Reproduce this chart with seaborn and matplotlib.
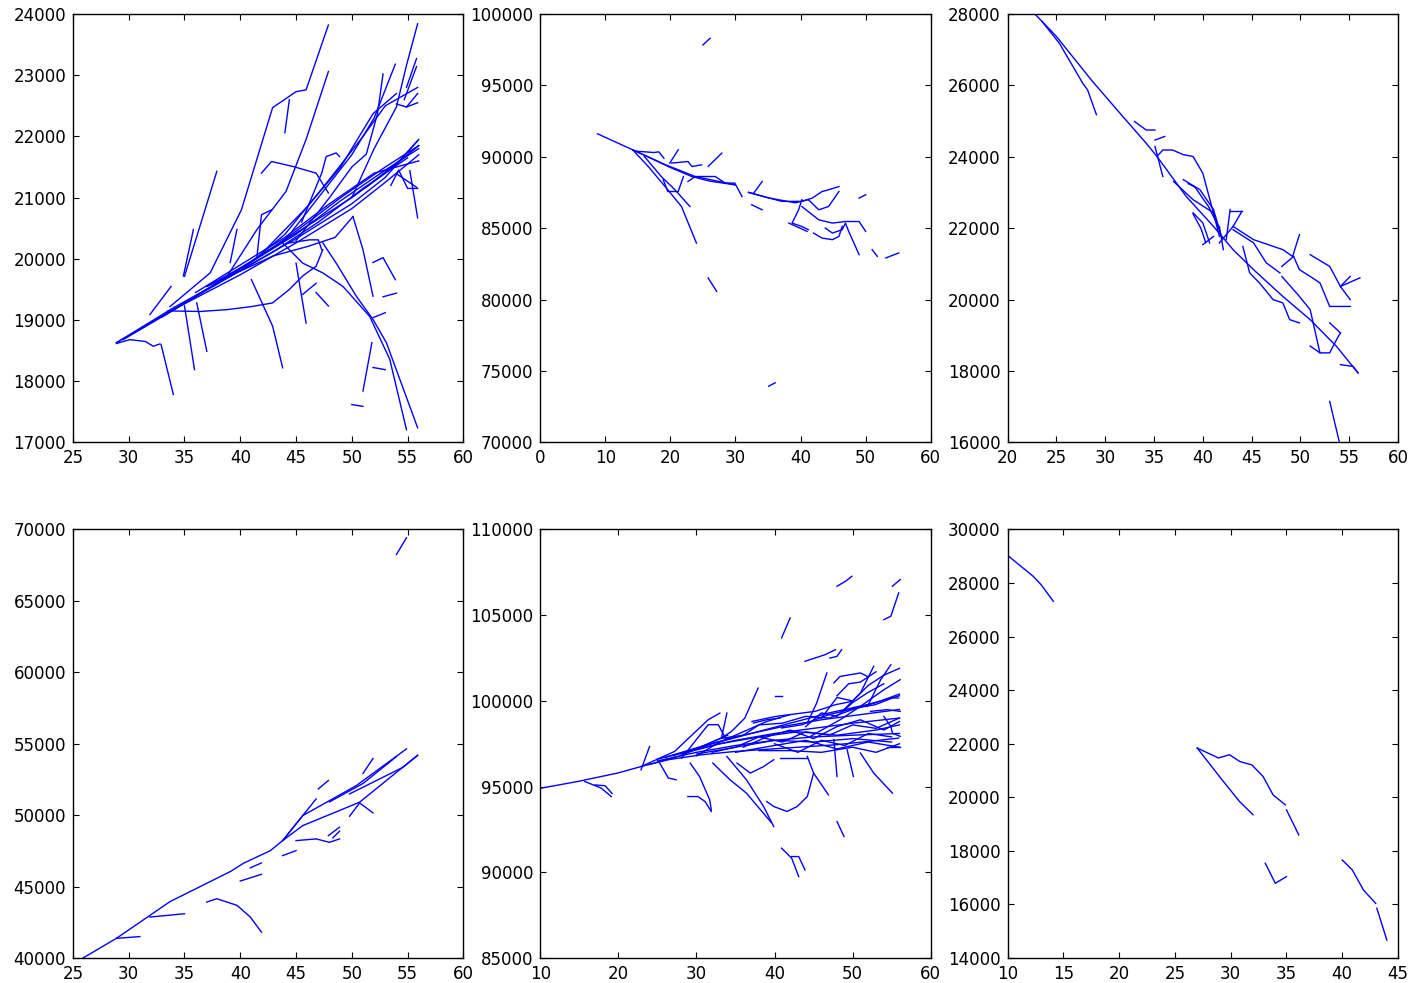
import numpy as np
import pandas as pd
import matplotlib
matplotlib.use("Agg")
import matplotlib.pyplot as plt
import seaborn as sns

plt.rcParams['font.family'] = ['DejaVu Sans']
plt.rcParams['font.size'] = 12

# ---------------- data: each panel is a list of polylines (xs, ys) ----------------
panel1 = [
    ([28.9, 34, 40, 45, 50, 53, 56], [18630, 19200, 19810, 20330, 20900, 21330, 21950]),
    ([28.9, 34, 40, 45, 50, 53, 56], [18630, 19170, 19740, 20260, 20820, 21250, 21700]),
    ([29.5, 35, 40, 45, 50, 53, 56], [18680, 19270, 19850, 20420, 21000, 21400, 21850]),
    ([31, 35, 39, 43, 47, 51, 55], [18850, 19280, 19700, 20120, 20600, 21150, 21650]),
    ([33, 37, 41, 45, 49, 53, 56], [19050, 19500, 19950, 20450, 21000, 21500, 21850]),
    ([36, 40, 44, 48, 52, 56], [19450, 19900, 20350, 20900, 21400, 21600]),
    ([37, 41, 45, 49, 53, 56], [19550, 19950, 20400, 20950, 21450, 21800]),
    ([40, 44, 48, 51, 53, 55.9], [19800, 20400, 21300, 22000, 22500, 22800]),
    ([42, 46, 49, 51.9, 54], [20100, 20850, 21500, 22370, 22700]),
    ([44, 47, 50, 52, 53.9], [20300, 21000, 21700, 22300, 23180]),
    ([45, 48, 50, 51.3, 52.3, 52.8], [20300, 21000, 21500, 21710, 22370, 23020]),
    ([50, 52, 54, 54.9, 55.9], [21000, 21800, 22480, 23160, 23840]),
    ([54.7, 55.8], [22600, 23140]),
    ([54.9, 55.8], [22800, 23270]),
    ([54.0, 54.9, 55.9], [22530, 22480, 22700]),
    ([54.9, 55.9], [22480, 22550]),
    ([33.7, 37.3, 40.1, 42.9, 45.0, 45.9, 47.9], [19220, 19770, 20800, 22470, 22730, 22760, 23820]),
    ([38.8, 41.5, 44.1, 45.9, 47.9], [19710, 20480, 21100, 21950, 23060]),
    ([35.0, 37.9], [19715, 21430]),
    ([34.9, 35.8], [19720, 20480]),
    ([39.1, 39.7], [19940, 20480]),
    ([41.9, 42.8, 44.7, 46.8, 47.9], [21400, 21590, 21510, 21400, 21075]),
    ([44.4, 44.0], [22600, 22060]),
    ([45.5, 47.3, 47.7, 48.6, 48.9], [20600, 21400, 21670, 21730, 21670]),
    ([51.3, 54.3, 55.9], [21170, 21610, 21930]),
    ([54.0, 55.8], [21390, 21170]),
    ([55.2, 55.9], [21440, 20670]),
    ([53.5, 54.2, 55.0, 55.9], [21200, 21450, 21150, 21150]),
    ([43.8, 45.6, 47.4, 49.2, 51.6, 53.4, 54.9], [20260, 19930, 19770, 19550, 19060, 18360, 17210]),
    ([47.4, 48.6, 50.4, 51.9, 53.1, 55.9], [20260, 19930, 19390, 19010, 18630, 17240]),
    ([50.1, 51.0, 51.9], [20690, 20150, 19390]),
    ([51.9, 52.8, 53.9], [19940, 20020, 19660]),
    ([52.8, 54.0], [19380, 19440]),
    ([51.9, 53.0], [19040, 19120]),
    ([51.8, 51.0], [18630, 17840]),
    ([51.9, 53.0], [18225, 18190]),
    ([50.0, 51.0], [17620, 17590]),
    ([41.0, 42.9, 43.8], [19660, 18900, 18220]),
    ([45.0, 45.9], [19930, 18950]),
    ([46.8, 45.6], [19600, 19420]),
    ([46.8, 47.9], [19450, 19230]),
    ([35.0, 35.9], [19230, 18190]),
    ([36.1, 37.0], [19280, 18490]),
    ([33.5, 36.4, 38.8, 41.0, 42.9, 44.4, 45.6, 46.8, 47.4],
     [19150, 19140, 19170, 19220, 19280, 19500, 19720, 19880, 20150]),
    ([28.9, 30.1, 31.5, 32.2, 32.8], [18617, 18680, 18650, 18572, 18610]),
    ([32.9, 34.0], [18600, 17785]),
    ([31.9, 33.8], [19090, 19550]),
    ([42.8, 41.9, 41.5], [20800, 20720, 20040]),
    ([44.4, 46.2, 47.0, 47.3], [20260, 20310, 20310, 20150]),
    ([37, 40, 43, 46, 48.5, 50.1], [19550, 19800, 20050, 20200, 20350, 20690]),
]

panel2 = [
    ([8.8, 14.2, 18.6, 23.8, 29.9], [91610, 90490, 89560, 88620, 88040]),
    ([14.2, 18, 20, 23.3, 26, 29.9], [90490, 89700, 89250, 88620, 88300, 88040]),
    ([32.0, 35.0, 39.2, 41.2], [87510, 87130, 86780, 87000]),
    ([14.2, 16.6, 19.6, 21.7, 24.0], [90490, 89320, 87690, 86520, 83960]),
    ([16.0, 18.6, 20.7, 23.0], [90020, 88620, 87690, 86520]),
    ([14.5, 17.5, 18.2, 19.0], [90400, 90300, 90350, 89900]),
    ([19.9, 21.2], [89560, 90490]),
    ([20.2, 22.7, 23.3, 24.8], [89560, 89670, 89320, 89440]),
    ([22.7, 23.8, 26.9, 28.4, 29.9, 31.0], [88270, 88620, 88620, 88160, 88160, 87220]),
    ([25.8, 27.9], [89320, 90260]),
    ([18.9, 19.6, 21.2, 22.0], [88390, 87570, 87570, 88620]),
    ([32.5, 34.1], [86640, 86290]),
    ([32.8, 34.1], [87460, 88270]),
    ([32.0, 37.1, 40.2, 41.8, 43.3, 44.3, 45.9], [87510, 86880, 86880, 87110, 87570, 87690, 87920]),
    ([41.2, 42.8, 44.3, 45.9], [87000, 86290, 86520, 87570]),
    ([40.2, 39.7, 38.7, 40.2, 41.2], [87000, 86290, 85360, 85120, 84900]),
    ([38.2, 41.0], [85360, 84780]),
    ([40.2, 42.8, 44.9, 46.9, 49.0, 50.0], [86520, 85590, 85360, 85470, 85470, 84780]),
    ([42.0, 43.3, 44.9, 45.9, 46.4], [84660, 84310, 84200, 84430, 85130]),
    ([43.8, 44.9, 46.4, 46.9, 47.4, 49.0], [85010, 84660, 84900, 85360, 84780, 83150]),
    ([49.0, 50.0], [87110, 87340]),
    ([51.0, 51.8], [83500, 83030]),
    ([53.1, 55.1], [82920, 83270]),
    ([25.8, 27.1], [81520, 80580]),
    ([25.0, 26.1], [97830, 98300]),
    ([35.1, 36.1], [73940, 74180]),
]

panel3 = [
    ([22.9, 25.0, 28.7, 31.8, 34.2, 35.3, 38.3, 41.1, 43.1, 45.2, 48.2, 51.0, 53.7, 55.9],
     [27970, 27370, 26110, 25130, 24380, 24010, 22890, 22050, 21400, 20840, 20090, 19440, 18690, 17950]),
    ([23.5, 25.3, 27.7, 28.2, 29.1], [27800, 27180, 26060, 25870, 25180]),
    ([35.3, 35.9, 36.9, 38.0, 39.0, 40.0, 41.1, 41.7], [24010, 24190, 24190, 24060, 24010, 23540, 22420, 21770]),
    ([33.0, 34.2, 35.1], [24990, 24750, 24750]),
    ([35.1, 36.1], [24470, 24570]),
    ([35.1, 35.9], [24290, 23450]),
    ([37.0, 39.0, 41.1, 42.0], [23310, 22800, 22430, 21700]),
    ([38.0, 39.7, 41.1, 41.7], [23360, 23080, 22520, 21960]),
    ([38.5, 39.2, 40.6, 41.5], [23250, 23150, 22600, 22100]),
    ([39.0, 40.0, 40.7], [22430, 22150, 21590]),
    ([39.0, 39.8, 40.3], [22400, 22000, 21600]),
    ([40.0, 41.1], [21540, 21770]),
    ([41.7, 42.1], [22050, 21400]),
    ([42.8, 42.4], [22520, 21680]),
    ([42.8, 44.0], [22470, 22470]),
    ([44.0, 43.1, 41.7], [22470, 22050, 21590]),
    ([43.1, 45.2, 48.2, 49.2, 49.9], [22050, 21680, 21400, 21210, 21820]),
    ([43.1, 45.2, 46.5, 47.9], [21960, 21590, 21030, 20750]),
    ([49.3, 48.1], [21210, 20930]),
    ([49.3, 49.9, 51.0, 52.0, 53.0, 55.1], [21210, 20840, 20650, 20470, 19810, 19810]),
    ([44.1, 44.8, 45.8, 47.2, 48.2, 48.9, 49.9], [21490, 20750, 20470, 20000, 19910, 19440, 19350]),
    ([48.1, 49.9, 51.0, 52.0, 53.0, 53.7, 54.1], [20650, 20090, 19720, 18510, 18510, 18880, 19070]),
    ([51.0, 53.0, 54.1, 55.1], [21260, 20930, 20370, 20000]),
    ([54.1, 55.1], [20370, 20650]),
    ([54.1, 56.1], [20370, 20610]),
    ([53.0, 54.1], [19350, 19070]),
    ([51.0, 52.0], [18700, 18510]),
    ([54.1, 55.4, 55.9], [18180, 18130, 17950]),
    ([53.0, 54.0], [17150, 16000]),
]

panel4 = [
    ([25.9, 28.9, 33.7, 39.1, 40.3, 42.7, 43.8, 45.6, 50.7, 55.9],
     [40000, 41380, 43950, 46050, 46640, 47520, 48220, 49270, 50910, 54200]),
    ([43.8, 45.6, 50.4, 54.9], [48220, 49970, 52070, 54640]),
    ([43.8, 46.8], [48220, 51140]),
    ([47.0, 47.9], [51840, 52430]),
    ([48.0, 51.0, 54.0], [50930, 52220, 54100]),
    ([51.0, 51.9], [52920, 53970]),
    ([49.8, 54.6, 55.9], [51490, 53360, 54180]),
    ([49.8, 50.7, 51.9], [49930, 50860, 50160]),
    ([45.0, 46.8, 48.0, 48.9], [48220, 48340, 48100, 48340]),
    ([47.9, 48.9], [48570, 49160]),
    ([48.3, 48.9], [48410, 48880]),
    ([43.8, 45.0], [47170, 47520]),
    ([40.0, 41.9], [45390, 45860]),
    ([40.9, 41.9], [46310, 46660]),
    ([37.0, 37.9, 39.7, 40.9, 41.9], [43920, 44150, 43690, 42870, 41810]),
    ([31.9, 35.0], [42870, 43100]),
    ([28.9, 31.0], [41380, 41500]),
    ([54.0, 54.9], [68250, 69420]),
]

panel5 = [
    ([10.1, 14.8, 19.9, 22.9, 26.4, 30.7, 34.9, 41.4, 47.8, 52.1, 55.9],
     [94910, 95300, 95790, 96170, 96570, 96860, 97050, 97250, 97440, 97640, 97830]),
    ([22.9, 27.2, 31.5, 33.0], [96170, 97050, 98900, 99290]),
    ([28.1, 31.5, 32.8, 33.7], [96660, 98610, 98610, 97830]),
    ([33.9, 33.2, 34.5, 36.2, 37.9], [99290, 97830, 98220, 99000, 100750]),
    ([40.1, 40.9], [100260, 100260]),
    ([37.1, 40.1, 43.5, 45.2, 47.8, 49.9], [98800, 99090, 99290, 99390, 99780, 99970]),
    ([40.9, 43.5, 46.9, 50.4, 52.9, 55.1, 55.9], [98420, 98610, 99190, 99580, 99780, 100170, 100170]),
    ([43.9, 46.5, 47.8], [102310, 102700, 102990]),
    ([47.1, 48.0, 48.6], [102500, 102600, 102990]),
    ([40.9, 42.0], [103670, 104840]),
    ([48.0, 49.1, 49.9], [106690, 106980, 107270]),
    ([55.1, 56.1], [106690, 107080]),
    ([54.0, 54.9, 55.9], [104740, 104940, 106300]),
    ([44.2, 45.4, 46.7], [98710, 99880, 101630]),
    ([47.6, 48.4, 51.0, 51.9], [101050, 101430, 101630, 101430]),
    ([48.9, 51.0, 52.7], [99490, 100460, 102020]),
    ([51.9, 53.6, 54.9], [99680, 101240, 102110]),
    ([44.6, 48.4, 51.0, 54.0, 56.1], [97930, 98900, 99680, 100650, 101240]),
    ([52.3, 54.4, 56.1], [99390, 99490, 99390]),
    ([54.0, 54.9, 55.1, 56.1], [99090, 98510, 98120, 97930]),
    ([54.4, 56.1], [97340, 97340]),
    ([51.0, 52.7, 55.1], [96960, 95790, 94620]),
    ([47.6, 48.0], [97730, 95590]),
    ([49.3, 50.1], [97150, 95590]),
    ([44.2, 45.0, 46.9], [96760, 95790, 94520]),
    ([45.0, 44.2, 42.9, 41.6, 39.9, 39.0], [95790, 94420, 93840, 93550, 93840, 94130]),
    ([33.9, 36.4, 38.6, 39.9], [96760, 95400, 93840, 92670]),
    ([32.1, 34.3, 36.4, 39.6], [96370, 95400, 94620, 92900]),
    ([40.7, 44.2], [96670, 96670]),
    ([48.0, 48.9], [92960, 92090]),
    ([40.9, 42.2, 43.1], [91410, 90820, 89750]),
    ([42.2, 43.1, 43.9], [90920, 90920, 90140]),
    ([28.9, 30.2, 31.1, 31.9], [94420, 94420, 94130, 93550]),
    ([15.7, 17.8, 19.1], [95300, 94910, 94420]),
    ([17.0, 18.3, 19.2], [95100, 95050, 94600]),
    ([22.9, 24.0], [95980, 97340]),
    ([25.3, 26.4, 27.4], [96370, 95500, 95400]),
    ([29.2, 30.4, 31.7, 31.9], [96370, 95590, 94230, 93650]),
    ([35.2, 36.9, 38.6, 39.9], [96370, 95790, 96170, 96570]),
    ([37.3, 39.0, 40.7], [98710, 98900, 99000]),
    ([25, 30, 35, 40, 45, 50, 56], [96500, 97000, 97400, 97700, 97900, 98000, 98100]),
    ([25, 30, 35, 40, 45, 50, 56], [96600, 97200, 97700, 98100, 98400, 98700, 99000]),
    ([26, 31, 36, 41, 46, 51, 56], [96700, 97400, 98000, 98500, 98900, 99200, 99500]),
    ([27, 32, 37, 42, 47, 52, 56], [96800, 97500, 98100, 98700, 99300, 99800, 100300]),
    ([28, 33, 38, 43, 48, 53, 56], [96900, 97500, 97900, 98200, 98000, 98300, 98600]),
    ([30, 35, 40, 45, 50, 55], [96900, 97300, 97700, 97600, 97800, 97600]),
    ([35, 40, 44, 48, 52, 56], [97000, 97400, 97700, 97200, 97600, 97300]),
    ([38, 42, 46, 50, 53, 56], [97100, 97100, 97000, 97300, 97000, 97500]),
    ([24, 28, 32, 34], [96300, 96800, 97600, 98000]),
    ([30, 33, 36, 39, 42], [96800, 97600, 98200, 98800, 99200]),
    ([30, 33, 36, 38, 41, 44, 47, 50, 53, 56], [97200, 97800, 98000, 98600, 98700, 99100, 99000, 99500, 99900, 100400]),
    ([32, 35, 38, 41, 44, 47, 50, 53, 56], [97000, 97300, 97900, 97600, 98200, 98000, 98600, 98400, 99000]),
    ([36, 39, 42, 45, 48, 51, 54, 56], [97300, 97900, 98300, 97800, 98500, 98900, 98300, 98800]),
    ([40, 43, 46, 49, 52, 55], [97500, 97000, 97700, 97400, 98100, 97900]),
    ([44, 46, 48, 50, 52, 54], [98500, 99300, 99100, 99900, 100500, 101000]),
    ([46, 48, 50, 52, 54, 56], [99000, 100200, 100000, 100900, 101500, 101900]),
    ([48, 49.5, 51, 53], [100300, 101000, 101100, 101700]),
]

panel6 = [
    ([10.1, 12.3, 13.0, 14.1], [29000, 28250, 27940, 27320]),
    ([27.0, 28.9, 29.9, 30.8, 31.9, 32.9, 33.8, 34.9], [21840, 21470, 21590, 21340, 21210, 20780, 20090, 19720]),
    ([35.0, 36.1], [19530, 18600]),
    ([27.0, 29.1, 30.8, 32.0], [21840, 20720, 19840, 19350]),
    ([33.1, 34.0, 35.0], [17540, 16790, 17040]),
    ([40.0, 40.9, 41.9, 43.0], [17660, 17290, 16540, 16040]),
    ([43.1, 44.0], [15860, 14670]),
]

panels = [panel1, panel2, panel3, panel4, panel5, panel6]
xlims = [(25, 60), (0, 60), (20, 60), (25, 60), (10, 60), (10, 45)]
ylims = [(17000, 24000), (70000, 100000), (16000, 28000), (40000, 70000), (85000, 110000), (14000, 30000)]
xsteps = [5, 10, 5, 5, 10, 5]
ysteps = [1000, 5000, 2000, 5000, 5000, 2000]

# ---------------- plotting ----------------
fig, axes = plt.subplots(2, 3, figsize=(14.11, 9.83), dpi=100)
fig.patch.set_facecolor('white')
plt.subplots_adjust(left=0.0517, right=0.9908, top=0.9858, bottom=0.0254,
                    wspace=0.197, hspace=0.203)

for ax, lines, xl, yl, xs_, ys_ in zip(axes.flat, panels, xlims, ylims, xsteps, ysteps):
    rows = []
    for i, (xs, ys) in enumerate(lines):
        for k, (x, y) in enumerate(zip(xs, ys)):
            rows.append({'seg': i, 'order': k, 'x': x, 'y': y})
    df = pd.DataFrame(rows)
    sns.lineplot(data=df, x='x', y='y', units='seg', estimator=None, sort=False,
                 color='#0000ff', linewidth=1.0, ax=ax, legend=False)
    ax.set_xlim(*xl)
    ax.set_ylim(*yl)
    ax.set_xticks(np.arange(xl[0], xl[1] + 0.001, xs_))
    ax.set_yticks(np.arange(yl[0], yl[1] + 0.001, ys_))
    ax.set_xlabel('')
    ax.set_ylabel('')
    ax.set_facecolor('white')
    ax.tick_params(direction='in', top=True, right=True, length=4.5, width=0.8,
                   labelsize=12, pad=5, colors='black')
    for s in ax.spines.values():
        s.set_color('black')
        s.set_linewidth(1.0)

fig.savefig('out.png', dpi=100, facecolor='white')
